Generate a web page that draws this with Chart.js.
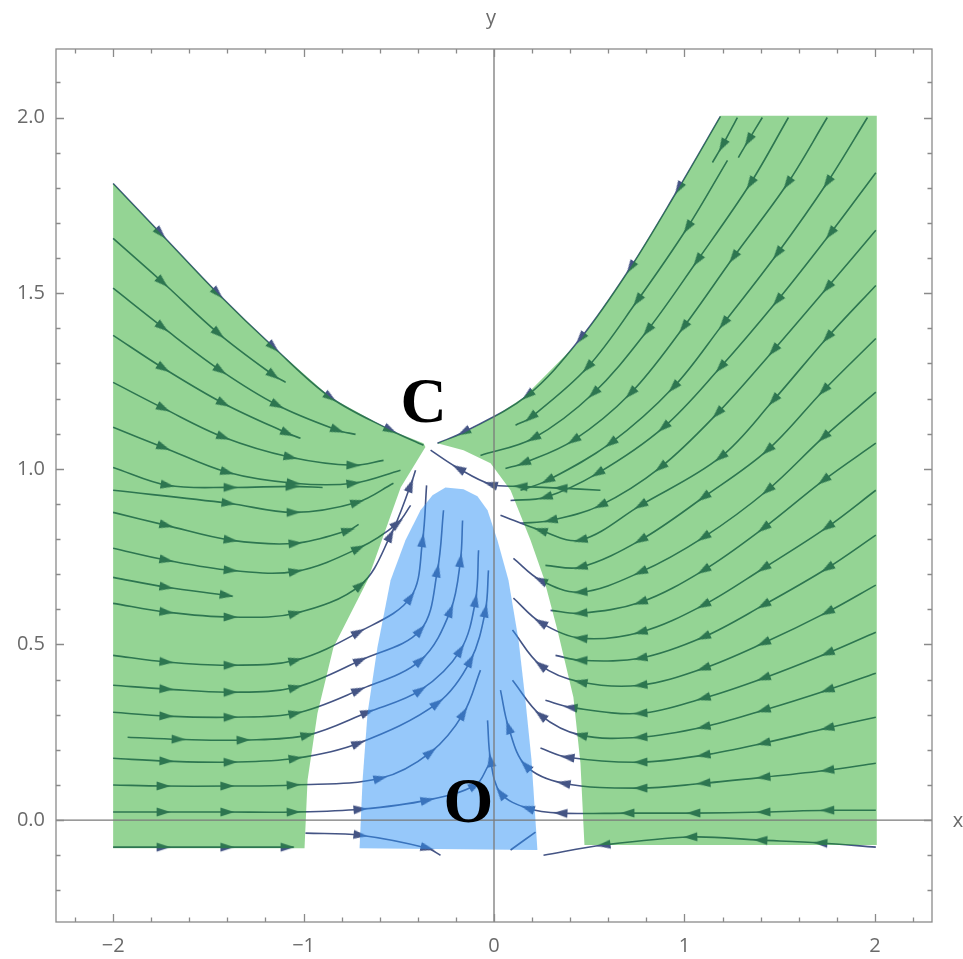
<!DOCTYPE html>
<html><head><meta charset="utf-8">
<script src="https://cdn.jsdelivr.net/npm/chart.js@4.4.1/dist/chart.umd.min.js"></script>
<style>html,body{margin:0;padding:0;background:#fff;}canvas{display:block;}</style>
</head><body>
<canvas id="c" width="963" height="959"></canvas>
<script>
// ---------- tick labels ----------
const xTickValues = [-2, -1, 0, 1, 2];
const yTickValues = [0, 0.5, 1, 1.5, 2];

// ---------- coloured regions (x, y) ----------
const greenLeft = [[-2.0,1.812],[-1.75,1.67],[-1.45,1.499],[-1.157,1.346],[-0.858,1.203],[-0.543,1.11],[-0.37,1.073],[-0.36,1.062],
  [-0.49,0.947],[-0.664,0.683],[-0.843,0.492],[-0.927,0.304],[-0.979,0.114],[-0.995,-0.08],[-2.0,-0.08]];
const greenRight = [[1.189,2.005],[0.963,1.792],[0.717,1.573],[0.454,1.366],[0.155,1.203],[-0.003,1.147],[-0.16,1.101],[-0.297,1.073],
  [-0.16,1.053],[-0.018,1.016],[0.087,0.939],[0.192,0.797],[0.26,0.691],[0.333,0.541],[0.417,0.35],[0.454,0.162],[0.475,-0.071],
  [2.01,-0.071],[2.01,2.005]];
const blueMiddle = [[-0.706,-0.08],[-0.69,0.114],[-0.664,0.304],[-0.612,0.492],[-0.543,0.683],[-0.465,0.797],[-0.386,0.882],[-0.323,0.925],
  [-0.255,0.947],[-0.16,0.942],[-0.087,0.922],[-0.034,0.882],[0.018,0.797],[0.076,0.683],[0.129,0.512],[0.165,0.341],[0.197,0.171],[0.228,-0.085]];

// ---------- stream lines (x, y), in flow order ----------
const sepLeft  = [[-2.0,1.812],[-1.75,1.67],[-1.45,1.499],[-1.157,1.346],[-0.858,1.203],[-0.543,1.11],[-0.37,1.067]];
const sepRight = [[1.189,2.003],[0.969,1.798],[0.717,1.573],[0.454,1.371],[0.176,1.209],[-0.16,1.104],[-0.297,1.073]];
const sepLower = [[0.559,0.939],[0.349,0.945],[0.139,0.95],[-0.018,0.956],[-0.186,1.001],[-0.333,1.053]];

const lg1  = [[-2,1.656],[-1.74,1.531],[-1.446,1.385],[-1.157,1.266],[-1.094,1.246]];
const lg2  = [[-2,1.514],[-1.74,1.403],[-1.436,1.28],[-1.137,1.181],[-0.822,1.11],[-0.727,1.098]];
const lg3  = [[-2,1.38],[-1.735,1.286],[-1.42,1.186],[-1.084,1.101],[-1.016,1.087]];
const lg4  = [[-2,1.246],[-1.735,1.172],[-1.42,1.09],[-1.068,1.033],[-0.738,1.01],[-0.58,1.024]];
const lg5  = [[-2,1.118],[-1.735,1.061],[-1.40,0.99],[-1.052,0.959],[-0.738,0.959],[-0.491,0.996]];
const lg6  = [[-2,1.004],[-1.714,0.953],[-1.383,0.947],[-1.058,0.95],[-0.9,0.947]];
const lg7  = [[-2,0.939],[-1.394,0.902],[-1.052,0.876],[-0.717,0.905],[-0.528,0.959]];
const lg8  = [[-2,0.876],[-1.72,0.839],[-1.383,0.797],[-1.042,0.788],[-0.764,0.825],[-0.711,0.842]];
const lg9  = [[-2,0.774],[-1.72,0.74],[-1.383,0.711],[-1.042,0.708],[-0.711,0.774],[-0.507,0.845],[-0.438,0.896]];
const lg10 = [[-2,0.691],[-1.72,0.663],[-1.404,0.64],[-1.373,0.637]];
const lg11 = [[-2,0.617],[-1.72,0.592],[-1.383,0.578],[-1.042,0.589],[-0.701,0.669],[-0.543,0.811],[-0.438,0.953],[-0.412,0.996]];
const lg12 = [[-2,0.469],[-1.72,0.45],[-1.383,0.441],[-1.042,0.455],[-0.711,0.535],[-0.438,0.634],[-0.375,0.797],[-0.354,0.953]];
const lg13 = [[-2,0.384],[-1.72,0.373],[-1.383,0.364],[-1.042,0.378],[-0.701,0.455],[-0.386,0.541],[-0.297,0.711],[-0.265,0.882]];
const lg14 = [[-2,0.307],[-1.72,0.296],[-1.383,0.293],[-1.042,0.304],[-0.711,0.37],[-0.386,0.455],[-0.228,0.597],[-0.176,0.74],[-0.165,0.853]];
const lg15 = [[-1.924,0.236],[-1.656,0.23],[-1.315,0.228],[-0.979,0.242],[-0.664,0.307],[-0.386,0.37],[-0.176,0.484],[-0.097,0.626],[-0.081,0.768]];
const lg16 = [[-2,0.176],[-1.72,0.168],[-1.383,0.165],[-1.042,0.176],[-0.711,0.219],[-0.297,0.333],[-0.123,0.455],[-0.045,0.597],[-0.029,0.711]];
const lg17 = [[-2,0.1],[-1.735,0.097],[-1.40,0.097],[-1.052,0.1],[-0.596,0.119],[-0.333,0.193],[-0.16,0.304],[-0.071,0.427]];
const lg18 = [[-2,0.023],[-1.735,0.023],[-1.40,0.023],[-1.052,0.023],[-0.701,0.031],[-0.349,0.057],[-0.097,0.1],[-0.029,0.156]];
const lg19 = [[-2,-0.077],[-1.735,-0.077],[-1.40,-0.077],[-1.084,-0.077],[-1.052,-0.077]];
const lw1  = [[-0.99,-0.037],[-0.701,-0.043],[-0.349,-0.08],[-0.281,-0.1]];
const on1  = [[0.087,-0.085],[0.218,-0.034]];

const rt1 = [[1.278,2.0],[1.199,1.92],[1.147,1.872]];
const rt2 = [[1.409,2.0],[1.336,1.935],[1.283,1.886]];
const rt3 = [[1.226,1.878],[1.016,1.687],[0.753,1.479],[0.491,1.289],[0.192,1.146],[0.113,1.124]];
const rt4 = [[1.546,2.0],[1.346,1.812],[1.068,1.593],[0.806,1.394],[0.522,1.215],[0.207,1.087],[-0.071,1.038]];
const rt5 = [[1.75,2.0],[1.541,1.812],[1.257,1.602],[0.995,1.403],[0.717,1.215],[0.417,1.081],[0.155,1.016],[0.06,1.001]];
const rt6 = [[1.961,2.0],[1.75,1.815],[1.488,1.613],[1.205,1.414],[0.942,1.232],[0.612,1.073],[0.281,0.967],[0.139,0.939]];
const re1 = [[2.005,1.843],[1.766,1.67],[1.488,1.479],[1.189,1.289],[0.89,1.118],[0.543,0.987],[0.27,0.919],[0.087,0.91]];
const re2 = [[2.005,1.679],[1.75,1.516],[1.467,1.337],[1.173,1.158],[0.874,1.004],[0.559,0.896],[0.297,0.853],[0.139,0.845]];
const re3 = [[2.005,1.522],[1.75,1.374],[1.467,1.195],[1.189,1.033],[0.769,0.896],[0.454,0.797],[0.244,0.825],[0.034,0.868]];
const re4 = [[2.005,1.371],[1.73,1.223],[1.436,1.053],[1.1,0.919],[0.769,0.797],[0.454,0.72],[0.27,0.725]];
const re5 = [[2.005,1.218],[1.73,1.09],[1.436,0.939],[1.1,0.805],[0.769,0.706],[0.454,0.649],[0.244,0.683],[0.102,0.745]];
const re6 = [[2.005,1.073],[1.73,0.967],[1.415,0.831],[1.1,0.711],[0.769,0.62],[0.454,0.589],[0.297,0.597]];
const re7 = [[2.005,0.939],[1.75,0.834],[1.415,0.717],[1.1,0.612],[0.769,0.535],[0.454,0.518],[0.244,0.563],[0.102,0.632]];
const re8 = [[2.005,0.811],[1.75,0.717],[1.415,0.612],[1.1,0.521],[0.769,0.461],[0.454,0.455],[0.323,0.469]];
const re9 = [[2.005,0.669],[1.75,0.592],[1.415,0.504],[1.1,0.432],[0.769,0.384],[0.454,0.393],[0.244,0.441],[0.097,0.541]];
const re10 = [[2.005,0.535],[1.75,0.475],[1.415,0.404],[1.1,0.347],[0.769,0.304],[0.402,0.321],[0.27,0.341]];
const re11 = [[2.005,0.418],[1.75,0.37],[1.415,0.313],[1.1,0.265],[0.769,0.236],[0.454,0.242],[0.244,0.299],[0.097,0.398]];
const re12 = [[2.005,0.293],[1.75,0.262],[1.415,0.219],[1.1,0.185],[0.769,0.165],[0.386,0.179],[0.244,0.205]];
const re13 = [[2.005,0.162],[1.75,0.142],[1.415,0.122],[1.1,0.105],[0.769,0.091],[0.365,0.105],[0.165,0.156],[0.076,0.265],[0.034,0.37]];
const re14 = [[2.005,0.028],[1.75,0.028],[1.415,0.023],[1.047,0.02],[0.701,0.02],[0.349,0.02],[0.176,0.034],[0.034,0.077],[-0.018,0.171],[-0.034,0.284]];
const re15 = [[2.005,-0.077],[1.714,-0.065],[1.399,-0.057],[1.031,-0.048],[0.575,-0.071],[0.26,-0.1]];

// ---------- point labels ----------
const pointLabels = [{text: 'C', x: -0.37, y: 1.181}, {text: 'O', x: -0.134, y: 0.043}];

const streams = [sepLeft, sepRight, sepLower, lg1, lg2, lg3, lg4, lg5, lg6, lg7, lg8, lg9, lg10, lg11, lg12, lg13, lg14,
  lg15, lg16, lg17, lg18, lg19, lw1, on1, rt1, rt2, rt3, rt4, rt5, rt6, re1, re2, re3, re4, re5, re6, re7, re8, re9,
  re10, re11, re12, re13, re14, re15];

const LINE = 'rgb(68,84,132)';
const arrowImg = (() => {
  const c = document.createElement('canvas'); c.width = 20; c.height = 12;
  const g = c.getContext('2d'); g.fillStyle = LINE;
  g.beginPath(); g.moveTo(17, 6); g.lineTo(3, 1.6); g.lineTo(3, 10.4); g.closePath(); g.fill();
  return c;
})();

const toPts = a => a.map(p => ({x: p[0], y: p[1]}));

function arrowRotation(ctx) {
  const d = ctx.dataset.data, i = ctx.dataIndex;
  const a = d[Math.max(i - 1, 0)], b = d[Math.min(i + 1, d.length - 1)];
  const xs = ctx.chart.scales.x, ys = ctx.chart.scales.y;
  const dx = xs.getPixelForValue(b.x) - xs.getPixelForValue(a.x);
  const dy = ys.getPixelForValue(b.y) - ys.getPixelForValue(a.y);
  return Math.atan2(dy, dx) * 180 / Math.PI;
}

const datasets = [];
[[greenLeft, 'rgba(18,160,18,0.45)'], [greenRight, 'rgba(18,160,18,0.45)'], [blueMiddle, 'rgba(45,145,245,0.5)']].forEach(([poly, col]) => {
  datasets.push({data: toPts(poly), showLine: true, fill: 'shape', backgroundColor: col, borderWidth: 0,
    borderColor: 'rgba(0,0,0,0)', pointRadius: 0, tension: 0, order: 0});
});
streams.forEach(s => {
  datasets.push({data: toPts(s), showLine: true, fill: false, borderColor: LINE, borderWidth: 1.6, tension: 0.35,
    pointStyle: arrowImg,
    pointRadius: ctx => (ctx.dataIndex > 0 && ctx.dataIndex < ctx.dataset.data.length - 1) ? 5 : 0,
    pointRotation: arrowRotation, order: 1});
});

const GRAY = '#8a8a8a';
const decor = {
  id: 'decor',
  afterDatasetsDraw(chart) {
    const {ctx, chartArea: a, scales: {x, y}} = chart;
    const x0 = x.getPixelForValue(0), y0 = y.getPixelForValue(0);
    ctx.save();
    ctx.strokeStyle = '#7a7a7a'; ctx.lineWidth = 1.3;
    ctx.beginPath();
    ctx.moveTo(x0, a.top); ctx.lineTo(x0, a.bottom);
    ctx.moveTo(a.left, y0); ctx.lineTo(a.right, y0);
    ctx.stroke();
    ctx.fillStyle = '#000'; ctx.font = 'bold 64px "Liberation Serif", "Times New Roman", serif';
    ctx.textAlign = 'center'; ctx.textBaseline = 'middle';
    pointLabels.forEach(l => ctx.fillText(l.text, x.getPixelForValue(l.x), y.getPixelForValue(l.y)));
    ctx.restore();
  },
  afterDraw(chart) {
    const {ctx, chartArea: a, scales: {x, y}} = chart;
    ctx.save();
    ctx.strokeStyle = GRAY; ctx.lineWidth = 1.3;
    ctx.strokeRect(a.left, a.top, a.right - a.left, a.bottom - a.top);
    ctx.beginPath();
    for (let i = -11; i <= 11; i++) {
      const px = Math.round(x.getPixelForValue(i * 0.2)) + 0.5;
      const L = (i % 5 === 0) ? 8 : 4.5;
      ctx.moveTo(px, a.bottom); ctx.lineTo(px, a.bottom - L);
      ctx.moveTo(px, a.top); ctx.lineTo(px, a.top + L);
    }
    for (let i = -2; i <= 21; i++) {
      const py = Math.round(y.getPixelForValue(i * 0.1)) + 0.5;
      const L = (i % 5 === 0) ? 8 : 4.5;
      ctx.moveTo(a.left, py); ctx.lineTo(a.left + L, py);
      ctx.moveTo(a.right, py); ctx.lineTo(a.right - L, py);
    }
    ctx.stroke();
    ctx.fillStyle = '#6a6a6a'; ctx.font = '20px "Open Sans", sans-serif';
    ctx.textAlign = 'center'; ctx.textBaseline = 'middle';
    ctx.fillText('y', x.getPixelForValue(0) - 3, a.top - 31);
    ctx.fillText('x', a.right + 26, y.getPixelForValue(0) + 1);
    ctx.restore();
  }
};

const tickFont = {family: '"Open Sans", sans-serif', size: 20};
new Chart(document.getElementById('c'), {
  type: 'scatter',
  data: {datasets},
  options: {
    responsive: false, animation: false, devicePixelRatio: 1,
    layout: {padding: {top: 49, right: 31, left: 0, bottom: 0}},
    plugins: {legend: {display: false}, tooltip: {enabled: false}},
    scales: {
      x: {type: 'linear', min: -2.3, max: 2.3,
        grid: {display: false, drawTicks: false}, border: {display: false},
        afterBuildTicks: s => { s.ticks = xTickValues.map(v => ({value: v})); },
        afterFit: s => { s.height = 37; },
        ticks: {padding: 12, color: '#6a6a6a', font: tickFont, autoSkip: false, maxRotation: 0,
          callback: v => v < 0 ? '\u2212' + Math.abs(v) : String(v)}},
      y: {type: 'linear', min: -0.29, max: 2.195,
        grid: {display: false, drawTicks: false}, border: {display: false},
        afterBuildTicks: s => { s.ticks = yTickValues.map(v => ({value: v})); },
        afterFit: s => { s.width = 56; },
        ticks: {padding: 11, color: '#6a6a6a', font: tickFont, autoSkip: false,
          callback: v => Number(v).toFixed(1)}}
    }
  },
  plugins: [decor]
});
</script>
</body></html>
